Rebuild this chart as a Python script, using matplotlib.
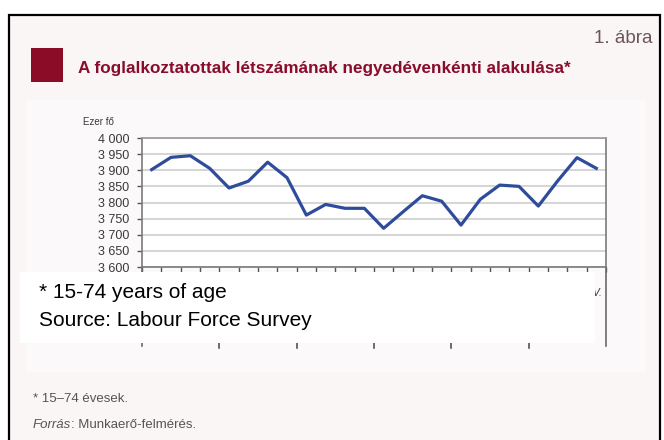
import numpy as np
import matplotlib.pyplot as plt
from matplotlib.patches import Rectangle
from matplotlib.lines import Line2D

# quarterly employment, thousand persons (15-74 years)
years = [2007, 2008, 2009, 2010, 2011, 2012]
quarters = ["I.", "II.", "III.", "IV."]
employed = [3902, 3940, 3945, 3906,
            3845, 3866, 3925, 3877,
            3761, 3794, 3782, 3782,
            3720, 3771, 3821, 3804,
            3730, 3810, 3854, 3850,
            3789, 3867, 3939, 3906]
y_ticks = [3600, 3650, 3700, 3750, 3800, 3850, 3900, 3950, 4000]

sans = ["Liberation Sans", "DejaVu Sans"]
W, H = 664, 440

def fx(px):
    return px / W

def fy(py):
    return 1 - py / H

fig = plt.figure(figsize=(6.64, 4.4), dpi=100)
fig.patch.set_facecolor("white")

# page background and black frame
fig.add_artist(Rectangle((fx(9), fy(445)), fx(651), fy(15) - fy(445),
                         transform=fig.transFigure, fc="#faf6f6", ec="black", lw=1.6, zorder=-10))
# slightly lighter chart panel
fig.add_artist(Rectangle((fx(26), fy(372)), fx(620), fy(100) - fy(372),
                         transform=fig.transFigure, fc="#fbf9f9", ec="none", zorder=-9))

# title block
fig.add_artist(Rectangle((fx(31), fy(82)), fx(32), fy(48) - fy(82),
                         transform=fig.transFigure, fc="#8a0c26", ec="none"))
fig.text(fx(78), fy(68), "A foglalkoztatottak létszámának negyedévenkénti alakulása*",
         family=sans, fontweight="bold", fontsize=12.3, color="#8a0c2c",
         va="center", ha="left")
fig.text(fx(653), fy(38), "1. ábra", family=sans, fontsize=13.5,
         color="#6b5558", va="center", ha="right")

# main chart
ax = fig.add_axes([fx(142), fy(267), fx(464), fy(138) - fy(267)])
ax.set_facecolor("white")
x = np.arange(1, len(employed) + 1)
ax.plot(x, employed, color="#2f4c9c", lw=2.3, zorder=3)

ax.set_xlim(0.5, len(employed) + 0.5)
ax.set_ylim(y_ticks[0], y_ticks[-1])
ax.set_yticks(y_ticks)
ax.set_yticklabels([f"{v // 1000} {v % 1000:03d}" for v in y_ticks],
                   family=sans, fontsize=9, color="#3a3a3a")
ax.set_xticks(np.arange(0.5, len(employed) + 1, 1))
ax.set_xticklabels([])
ax.tick_params(axis="both", direction="out", length=3.6, width=1, color="#555555")
ax.tick_params(axis="y", pad=5.5)
ax.grid(axis="y", color="#d2d2d2", lw=1.3)
ax.set_axisbelow(True)
for s in ax.spines.values():
    s.set_color("#7a7a7a")
    s.set_linewidth(1.2)
ax.spines["top"].set_color("#9a9a9a")

xt = ax.get_xaxis_transform()

# last quarter label, only its right end shows beside the caption box
last = ax.text(x[-1], -0.2, quarters[(len(employed) - 1) % 4], transform=xt,
               ha="center", va="center", fontsize=7.5, style="italic",
               family=sans, color="#333333", clip_on=True)
last.set_clip_path(Rectangle((fx(595), 0), fx(20), 1, transform=fig.transFigure))

# extended frame below the axis and year separators
for xb in [0.5, len(employed) + 0.5]:
    ax.add_line(Line2D([xb, xb], [0, -0.612], transform=xt, color="#6a6a6a",
                       lw=1.2, clip_on=False))
for xb in np.arange(4.5, len(employed), 4):
    ax.add_line(Line2D([xb, xb], [-0.58, -0.625], transform=xt, color="#444444",
                       lw=1.1, clip_on=False))

fig.text(fx(83), fy(122), "Ezer fő", family=sans, fontsize=7,
         color="#3a3a3a", va="center", ha="left")

# English caption box over the category axis
fig.add_artist(Rectangle((fx(20), fy(343)), fx(575), fy(272) - fy(343),
                         transform=fig.transFigure, fc="white", ec="none", zorder=5))
fig.text(fx(39), fy(292), "* 15-74 years of age", family=sans,
         fontsize=15, color="black", va="center", ha="left", zorder=6)
fig.text(fx(39), fy(320), "Source: Labour Force Survey", family=sans,
         fontsize=15, color="black", va="center", ha="left", zorder=6)

# footnotes
fig.text(fx(33), fy(399), "* 15–74 évesek.", family=sans, fontsize=9.5,
         color="#555555", va="center", ha="left")
src = fig.text(fx(33), fy(425), "Forrás", family=sans, fontsize=9.5, style="italic",
               color="#555555", va="center", ha="left")
r = fig.canvas.get_renderer()
bb = src.get_window_extent(r)
fig.text(bb.x1 / fig.bbox.width, fy(425), ": Munkaerő-felmérés.", family=sans,
         fontsize=9.5, color="#555555", va="center", ha="left")

fig.savefig("out.png", dpi=100, facecolor=fig.get_facecolor())
